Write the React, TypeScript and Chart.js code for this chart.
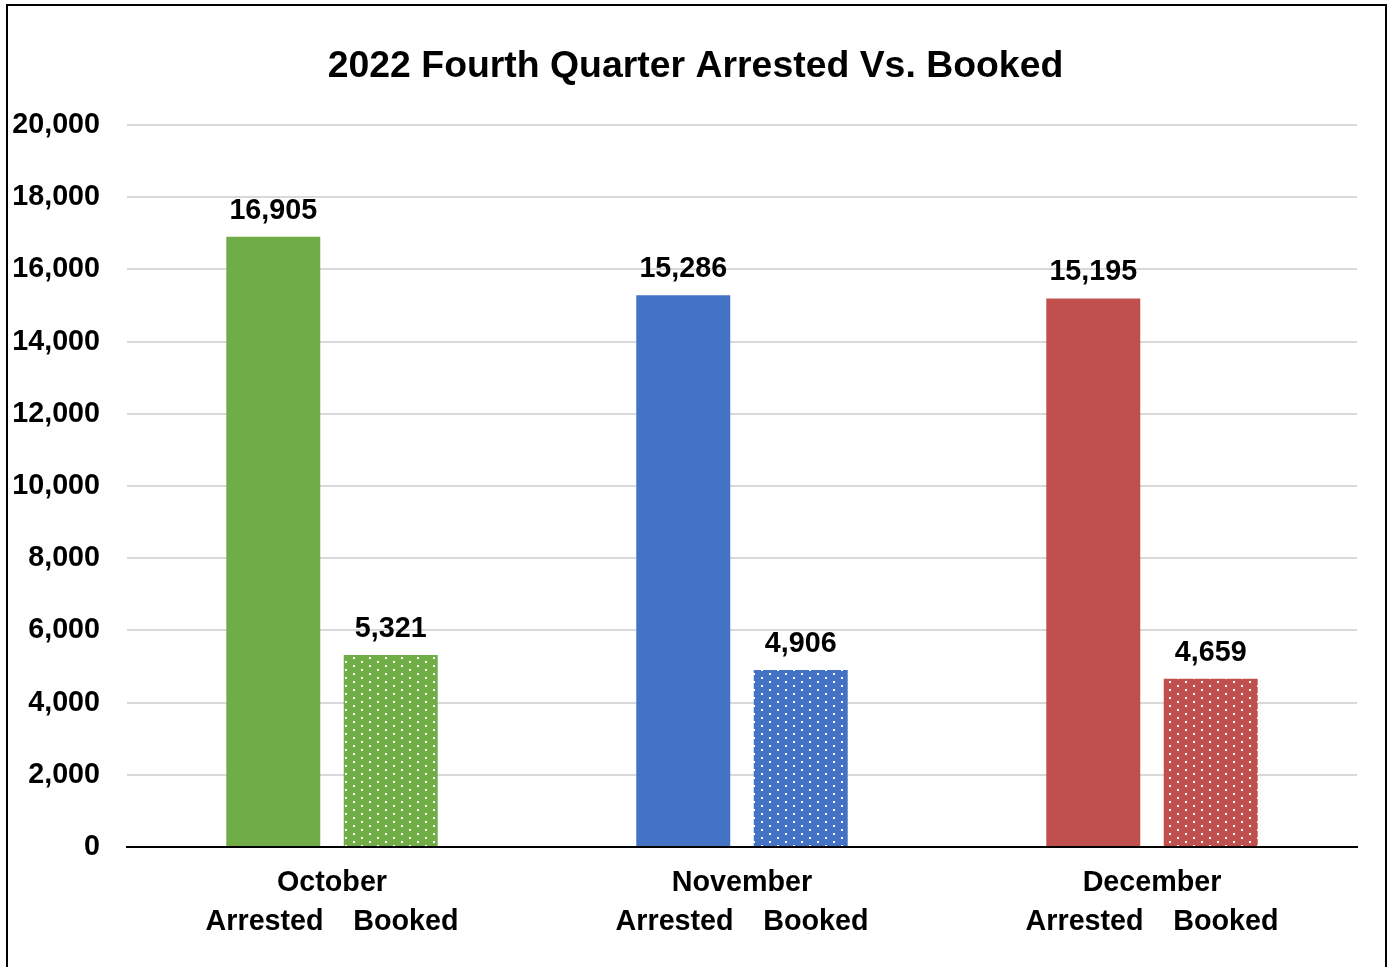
import React, { useEffect, useRef } from "react";
import { Chart, registerables } from "chart.js";

Chart.register(...registerables);

const TITLE = "2022 Fourth Quarter Arrested Vs. Booked";
const categories = ["October", "November", "December"];
const seriesNames = ["Arrested", "Booked"];
const arrested = [16905, 15286, 15195];
const booked = [5321, 4906, 4659];
const monthColors = ["#70AD47", "#4472C4", "#C0504D"];
const yTicksMin = 0;
const yTicksMax = 20000;
const yTickStep = 2000;

const FONT = "'Liberation Sans', Arial, Helvetica, sans-serif";
const FS = 28.7;

function makePattern(color: string): CanvasPattern | string {
  const c = document.createElement("canvas");
  c.width = 16;
  c.height = 8;
  const ctx = c.getContext("2d");
  if (!ctx) return color;
  ctx.fillStyle = color;
  ctx.fillRect(0, 0, 16, 8);
  ctx.fillStyle = "#ffffff";
  ctx.fillRect(1, 1, 2, 2);
  ctx.fillRect(9, 5, 2, 2);
  const p = ctx.createPattern(c, "repeat");
  return p || color;
}

const titlePlugin = {
  id: "customTitle",
  afterDraw(chart: any) {
    const ctx = chart.ctx;
    ctx.save();
    ctx.font = `bold 37.4px ${FONT}`;
    ctx.fillStyle = "#000";
    ctx.textAlign = "center";
    ctx.textBaseline = "alphabetic";
    ctx.fillText(TITLE, chart.width / 2, 77);
    ctx.restore();
  },
};

const valueLabelPlugin = {
  id: "valueLabels",
  afterDatasetsDraw(chart: any) {
    const ctx = chart.ctx;
    ctx.save();
    ctx.font = `bold ${FS}px ${FONT}`;
    ctx.fillStyle = "#000";
    ctx.textAlign = "center";
    ctx.textBaseline = "alphabetic";
    chart.data.datasets.forEach((ds: any, di: number) => {
      const meta = chart.getDatasetMeta(di);
      meta.data.forEach((bar: any, i: number) => {
        const v = ds.data[i] as number;
        ctx.fillText(v.toLocaleString("en-US"), bar.x, bar.y - 18);
      });
    });
    ctx.restore();
  },
};

export default function App() {
  const ref = useRef<HTMLCanvasElement | null>(null);

  useEffect(() => {
    if (!ref.current) return;
    const chart = new Chart(ref.current, {
      type: "bar",
      data: {
        labels: categories.map((c) => [c, `${seriesNames[0]}   \u2009${seriesNames[1]}`]),
        datasets: [
          {
            label: seriesNames[0],
            data: arrested,
            backgroundColor: monthColors,
            barPercentage: 0.8,
            categoryPercentage: 0.573,
          },
          {
            label: seriesNames[1],
            data: booked,
            backgroundColor: monthColors.map((c) => makePattern(c)) as any,
            barPercentage: 0.8,
            categoryPercentage: 0.573,
          },
        ],
      },
      options: {
        responsive: false,
        animation: false,
        devicePixelRatio: 1,
        layout: { padding: { top: 125, left: 0, right: 34, bottom: 0 } },
        plugins: {
          legend: { display: false },
          title: { display: false },
          tooltip: { enabled: false },
        },
        scales: {
          x: {
            grid: { display: false, drawTicks: false },
            border: { display: true, color: "#000", width: 2 },
            ticks: {
              color: "#000",
              padding: 16.5,
              maxRotation: 0,
              autoSkip: false,
              font: { family: FONT, size: FS, weight: "bold", lineHeight: 1.36 },
            },
            afterFit(scale: any) {
              scale.height = 120;
            },
          },
          y: {
            min: yTicksMin,
            max: yTicksMax,
            grid: { color: "#d9d9d9", lineWidth: 2, drawTicks: false },
            border: { display: false },
            ticks: {
              stepSize: yTickStep,
              color: "#000",
              padding: 27,
              font: { family: FONT, size: FS, weight: "bold" },
              callback: (v: any) => Number(v).toLocaleString("en-US"),
            },
            afterFit(scale: any) {
              scale.width = 127;
            },
          },
        },
      },
      plugins: [titlePlugin, valueLabelPlugin],
    });
    return () => chart.destroy();
  }, []);

  return (
    <div
      style={{
        position: "fixed",
        left: 0,
        top: 0,
        width: 1391,
        height: 967,
        overflow: "hidden",
        background: "#fff",
      }}
    >
      <div
        style={{
          position: "absolute",
          left: 6,
          top: 4,
          width: 1381,
          height: 1000,
          border: "2px solid #000",
          boxSizing: "border-box",
        }}
      />
      <canvas
        ref={ref}
        width={1391}
        height={967}
        style={{ position: "absolute", left: 0, top: 0, width: 1391, height: 967 }}
      />
    </div>
  );
}
